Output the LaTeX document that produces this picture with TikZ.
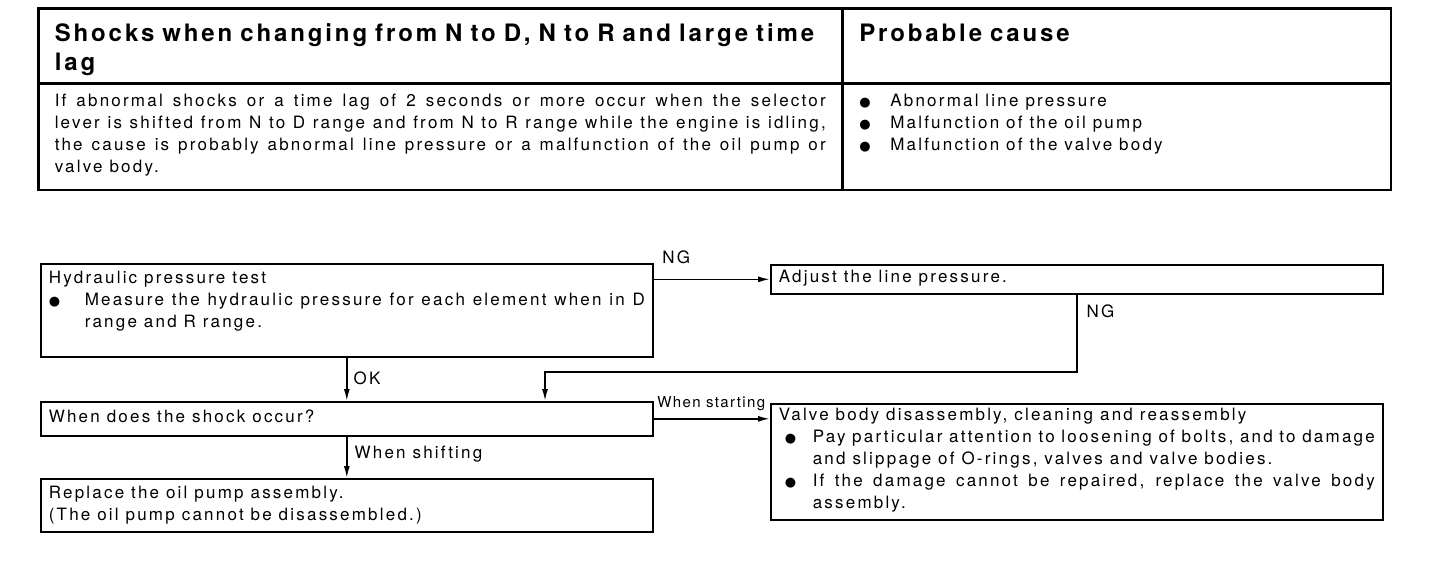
\documentclass[tikz,border=0pt]{standalone}
\usepackage{fontspec}
\setmainfont{TeX Gyre Heros}[LetterSpace=13]
\newfontfamily\headfont{TeX Gyre Heros}[LetterSpace=12]
\newfontfamily\tagfont{TeX Gyre Heros}[LetterSpace=9]
\newfontfamily\dotfont{DejaVu Sans}
\usepackage{tikz}
\usetikzlibrary{arrows.meta,positioning,calc}
\hyphenpenalty=10000
\newcommand{\blt}{{\dotfont\fontsize{13}{0}\selectfont ●}}
\newcommand{\bitem}[3][0pt]{\hangindent=#2\hangafter=1\makebox[#2][l]{\hspace{#1}\blt}#3\par}

\begin{document}
\begin{tikzpicture}[
  x=1pt, y=-1pt,
  font=\fontsize{17}{22}\selectfont,
  cell/.style={draw, line width=1.5pt, anchor=north west, inner ysep=0pt, inner xsep=16pt, align=justify},
  head/.style={cell, align=left, font=\headfont\bfseries\fontsize{24}{29}\selectfont, text height=33pt, text depth=41pt},
  stepbox/.style={draw, line width=1.6pt, anchor=north west, inner ysep=0pt, inner xsep=8pt, align=justify, text width=596pt},
  flow/.style={-{Latex[length=12pt,width=6pt]}, line width=1.6pt},
  lab/.style={inner sep=0pt, anchor=base west, pos=0}
]
\useasboundingbox (0,0) rectangle (1456,574);
% symptom table
\node[head, text width=771pt] (symptom) at (38,8) {Shocks when changing from N to D, N to R and large time lag};
\node[head, text width=515pt] (cause) at (symptom.north east) {Probable cause};
\node[cell, text width=771pt, text height=22pt, text depth=83pt] (detail) at (symptom.south west) {If abnormal shocks or a time lag of 2 seconds or more occur when the selector\linebreak lever is shifted from N to D range and from N to R range while the engine is idling,\linebreak the cause is probably abnormal line pressure or a malfunction of the oil pump or\linebreak valve body.};
\node[cell, text width=515pt, text height=22pt, text depth=83pt] (causes) at (detail.north east) {\bitem{31pt}{Abnormal line pressure}\bitem{31pt}{Malfunction of the oil pump}\bitem{31pt}{Malfunction of the valve body}};
\draw[line width=2.5pt] (symptom.north west) rectangle (causes.south east);
% flow chart
\node[stepbox, text height=20pt, text depth=73pt] (pressure) at (40,263) {Hydraulic pressure test\par\bitem{36pt}{Measure the hydraulic pressure for each element when in D range and R range.}};
\node[stepbox, text height=18pt, text depth=11pt] (adjust) at (770,264) {Adjust the line pressure.};
\node[stepbox, text height=21pt, text depth=13pt] (occur) at (40,401) {When does the shock occur?};
\node[stepbox, text height=20pt, text depth=33pt] (pump) at (40,478) {Replace the oil pump assembly.\par(The oil pump cannot be disassembled.)};
\node[stepbox, text height=17pt, text depth=99pt] (valve) at (770,403) {Valve body disassembly, cleaning and reassembly\par\bitem[6pt]{34pt}{Pay particular attention to loosening of bolts, and to damage and slippage of O-rings, valves and valve bodies.}\bitem[6pt]{34pt}{If the damage cannot be repaired, replace the valve body assembly.}};
\coordinate (ngturn) at (545,372);
\draw[flow] (pressure.east |- adjust.west) -- node[lab, xshift=8pt, yshift=16pt]{NG} (adjust.west);
\draw[flow] (adjust.south) -- node[lab, xshift=9pt, yshift=-23pt]{NG} (adjust.south |- ngturn) -- (ngturn) -- (ngturn |- occur.north);
\draw[flow] (pressure.south) -- node[lab, xshift=6pt, yshift=-27pt]{OK} (occur.north);
\draw[flow] (occur.east) -- node[lab, font=\tagfont\fontsize{15}{16}\selectfont, xshift=3pt, yshift=11pt]{When starting} (occur.east -| valve.west);
\draw[flow] (occur.south) -- node[lab, xshift=7pt, yshift=-22pt]{When shifting} (pump.north);
\end{tikzpicture}
\end{document}
